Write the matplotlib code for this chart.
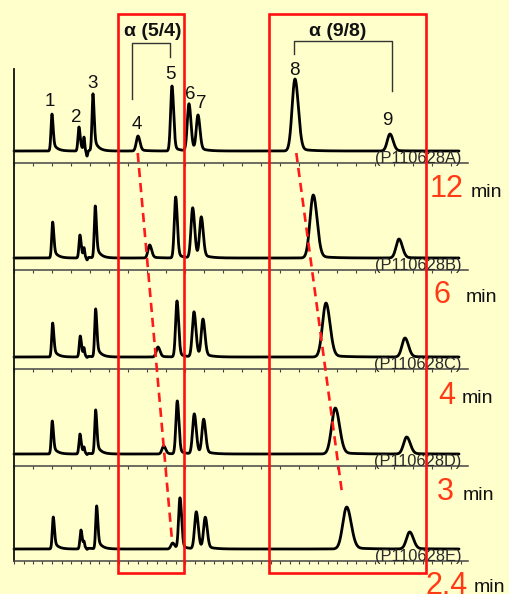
import numpy as np
import matplotlib
matplotlib.use("Agg")
import matplotlib.pyplot as plt
from matplotlib.lines import Line2D
from matplotlib.patches import Rectangle

plt.rcParams['font.family'] = ['Liberation Sans', 'DejaVu Sans']

# ---------------- data ----------------
peak_names = ['1', '2', '3', '4', '5', '6', '7', '8', '9']
sample_ids = ['(P110628A)', '(P110628B)', '(P110628C)', '(P110628D)', '(P110628E)']
gradient_times = ['12', '6', '4', '3', '2.4']

# retention positions (arbitrary time units) per run, peaks 1..9
rt_A = [3.80, 6.50, 7.90, 12.40, 15.80, 17.50, 18.40, 28.10, 37.60]
rt_B = [3.87, 6.60, 8.13, 13.57, 16.17, 17.87, 18.73, 29.93, 38.50]
rt_C = [3.87, 6.63, 8.17, 14.40, 16.30, 18.00, 18.90, 31.20, 39.10]
rt_D = [3.83, 6.60, 8.17, 14.97, 16.33, 18.03, 18.97, 32.13, 39.27]
rt_E = [3.93, 6.70, 8.27, 15.87, 16.60, 18.23, 19.13, 33.27, 39.57]

# peak heights (signal units) per run
h_A = [37, 24, 57, 15, 65, 47, 35, 72, 17]
h_B = [36, 23, 52, 13, 61, 50, 40, 63, 19]
h_C = [34, 21, 48, 10, 56, 45, 37, 54, 19]
h_D = [33, 20, 44, 8, 53, 40, 34, 46, 17]
h_E = [32, 19, 43, 6, 51, 37, 31, 42, 17]

# peak widths (sigma) per run
w_A = [0.10, 0.10, 0.10, 0.17, 0.14, 0.17, 0.17, 0.29, 0.27]
w_B = [0.10, 0.10, 0.10, 0.17, 0.14, 0.17, 0.17, 0.33, 0.29]
w_C = [0.10, 0.10, 0.10, 0.17, 0.14, 0.17, 0.17, 0.35, 0.30]
w_D = [0.10, 0.10, 0.10, 0.17, 0.14, 0.17, 0.17, 0.37, 0.31]
w_E = [0.10, 0.10, 0.10, 0.17, 0.14, 0.17, 0.17, 0.39, 0.32]
tailing = [0.28, 0.28, 0.28, 0.10, 0.08, 0.08, 0.08, 0.04, 0.04]

# small system artefact after peak 2 (bump then dip)
bump_height = [12, 8, 7, 5, 5]
dip_depth = [-6, -3, -1.5, -1.5, -1.5]
bump_pos = 7.0
dip_pos = 7.3

runs_rt = [rt_A, rt_B, rt_C, rt_D, rt_E]
runs_h = [h_A, h_B, h_C, h_D, h_E]
runs_w = [w_A, w_B, w_C, w_D, w_E]

# ---------------- layout (pixels) ----------------
W, H = 510, 594
def fx(x):
    return x / W
def fy(y):
    return 1 - y / H

axis_tops = [69, 163, 270, 369, 466]
axis_bottoms = [163, 270, 369, 466, 561]
ax_left, ax_right = 14, 468
base_off = 12  # baseline sits this many px above each x-axis line

fig = plt.figure(figsize=(W / 100, H / 100), dpi=100)
bg = '#ffffcc'
fig.patch.set_facecolor(bg)

x = np.linspace(0, 44.5, 4000)

def peak(x, c, h, s, tail):
    d = x - c
    left = np.exp(-0.5 * (d / s) ** 2)
    right = (1 - tail) * np.exp(-0.5 * (d / (s * 1.15)) ** 2) + tail * np.exp(-np.clip(d, 0, None) / (s * 4.0))
    return h * np.where(d < 0, left, right)

axes = []
for i in range(5):
    top, bot = axis_tops[i], axis_bottoms[i]
    ax = fig.add_axes([fx(ax_left), fy(bot), (ax_right - ax_left) / W, (bot - top) / H])
    ax.set_facecolor('none')
    ax.set_xlim(0, 45.4)
    ax.set_ylim(-base_off, (bot - top) - base_off)
    for s in ['top', 'right']:
        ax.spines[s].set_visible(False)
    ax.spines['left'].set_linewidth(1.3)
    ax.spines['left'].set_color('#111111')
    ax.spines['bottom'].set_linewidth(1.1)
    ax.spines['bottom'].set_color('#444444')
    step = 0.95 if i == 4 else 1.9
    ax.set_xticks(np.arange(0, 45.4, step))
    ax.set_yticks([])
    ax.tick_params(axis='x', direction='out', length=2.5, width=0.8, colors='#444444',
                   labelbottom=False)

    y = np.zeros_like(x)
    for c, h, s, t in zip(runs_rt[i], runs_h[i], runs_w[i], tailing):
        y += peak(x, c, h, s, t)
    y += bump_height[i] * np.exp(-0.5 * ((x - bump_pos) / 0.06) ** 2)
    y += dip_depth[i] * np.exp(-0.5 * ((x - dip_pos) / 0.07) ** 2)
    ax.plot(x, y, color='black', lw=2.0, solid_capstyle='round', solid_joinstyle='round',
            clip_on=False)
    ax.text(44.75, -7.5, sample_ids[i], ha='right', va='center', fontsize=11.8, color='#2a2a2a')
    axes.append(ax)

# peak labels on the first run
lab_dx = [-0.2, -0.23, -0.07, -0.13, -0.2, 0.1, 0.3, -0.07, -0.23]
lab_dy = [14, 12, 13, 13.3, 13.3, 11.3, 14.3, 10.7, 15.7]
axA = axes[0]
for name, c, h, dx, dy in zip(peak_names, rt_A, h_A, lab_dx, lab_dy):
    axA.text(c + dx, h + dy, name, ha='center', va='center_baseline', fontsize=13.5,
             color='#111111', clip_on=False)

# helper: data point of an axis -> figure fraction
def to_fig(ax, xd, yd):
    p = ax.transData.transform((xd, yd))
    return fig.transFigure.inverted().transform(p)

# dashed red guide lines following peaks 4 and 8
for (ax0, x0, y0), (ax1, x1, y1) in [((axes[0], rt_A[3] - 0.03, -2), (axes[4], rt_E[3] - 0.1, 12)),
                                      ((axes[0], rt_A[7] + 0.13, -2), (axes[4], rt_E[7] - 0.44, 54))]:
    p0 = to_fig(ax0, x0, y0)
    p1 = to_fig(ax1, x1, y1)
    fig.add_artist(Line2D([p0[0], p1[0]], [p0[1], p1[1]], transform=fig.transFigure,
                          color='#ff1a1a', lw=1.9, dashes=(3.5, 2.2)))

# red boxes
for x0, x1 in [(118, 184), (268.7, 426)]:
    fig.add_artist(Rectangle((fx(x0), fy(573)), (x1 - x0) / W, (573 - 14) / H,
                             transform=fig.transFigure, fill=False, edgecolor='#ff1010', lw=1.9))

# selectivity brackets
def fline(xs, ys, **kw):
    fig.add_artist(Line2D([fx(v) for v in xs], [fy(v) for v in ys], transform=fig.transFigure, **kw))

bk = dict(color='#333333', lw=1.0)
fline([132, 132, 170, 170], [99, 43, 43, 57], **bk)
fline([294.3, 294.3, 392, 392], [54, 41, 41, 91], **bk)
fig.text(fx(153), fy(31), 'α (5/4)', ha='center', va='center', fontsize=14, fontweight='bold',
         color='#111111')
fig.text(fx(338), fy(31), 'α (9/8)', ha='center', va='center', fontsize=14, fontweight='bold',
         color='#111111')

# gradient time labels
num_pos = [(430, 197), (433.5, 303), (438.5, 403.5), (436.5, 500), (425.5, 594)]
min_pos = [(470.5, 197), (466, 302), (462, 403), (463, 500), (474, 592)]
for t, (nx, ny), (mx, my) in zip(gradient_times, num_pos, min_pos):
    fig.text(fx(nx), fy(ny), t, ha='left', va='baseline', fontsize=22, color='#ff3a14')
    fig.text(fx(mx), fy(my), 'min', ha='left', va='baseline', fontsize=14, color='#111111')

fig.savefig('out.png', dpi=100, facecolor=bg)
